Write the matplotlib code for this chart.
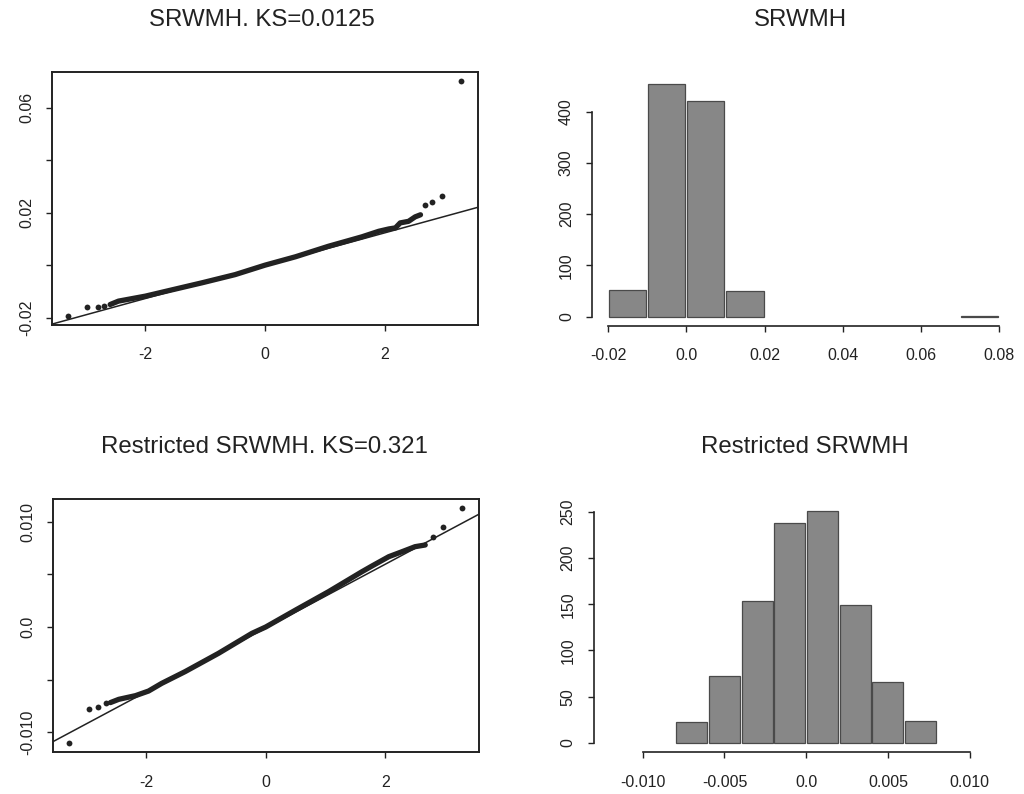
import matplotlib
matplotlib.use("Agg")
import matplotlib.pyplot as plt

plt.rcParams['font.family'] = ['Liberation Sans', 'DejaVu Sans']

# ---------------- data ----------------
titles = ["SRWMH. KS=0.0125", "SRWMH", "Restricted SRWMH. KS=0.321", "Restricted SRWMH"]

# QQ plot 1 (SRWMH): dense body of the sample quantiles
qq1_theo = [-2.59, -2.45, -2.00, -1.61, -1.05, -0.50, 0.00, 0.51, 1.06, 1.62,
            1.90, 2.07, 2.18, 2.26, 2.40, 2.51, 2.60]
qq1_samp = [-0.0150, -0.0137, -0.0118, -0.0097, -0.0067, -0.0036, 0.0000, 0.0032,
            0.0072, 0.0108, 0.0129, 0.0138, 0.0142, 0.0161, 0.0167, 0.0184, 0.0192]
# isolated tail points
qq1_tail_theo = [-3.29, -2.97, -2.80, -2.69, 2.68, 2.80, 2.96, 3.28]
qq1_tail_samp = [-0.0192, -0.0159, -0.0158, -0.0154, 0.0228, 0.0239, 0.0265, 0.0702]
qq1_line = (-0.0002, 0.00625)   # intercept, slope of reference line

# QQ plot 2 (Restricted SRWMH)
qq2_theo = [-2.60, -2.46, -2.18, -1.96, -1.74, -1.35, -0.79, -0.23, 0.00, 0.50,
            1.05, 1.61, 1.78, 2.06, 2.28, 2.50, 2.67]
qq2_samp = [-0.00718, -0.00687, -0.00652, -0.00608, -0.00535, -0.00424, -0.00250,
            -0.00060, 0.00000, 0.00161, 0.00335, 0.00525, 0.00580, 0.00668,
            0.00715, 0.00763, 0.00779]
qq2_tail_theo = [-3.29, -2.96, -2.80, -2.68, 2.80, 2.96, 3.29]
qq2_tail_samp = [-0.01099, -0.00779, -0.00757, -0.00725, 0.00858, 0.00947, 0.01127]
qq2_line = (-0.0001, 0.00303)

# Histogram 1 (SRWMH)
hist1_edges = [-0.02, -0.01, 0.00, 0.01, 0.02, 0.03, 0.04, 0.05, 0.06, 0.07, 0.08]
hist1_counts = [52, 455, 420, 51, 0, 0, 0, 0, 0, 1]

# Histogram 2 (Restricted SRWMH)
hist2_edges = [-0.008, -0.006, -0.004, -0.002, 0.000, 0.002, 0.004, 0.006, 0.008]
hist2_counts = [23, 72, 154, 238, 251, 149, 66, 24]

# tick labels
qq_xticks = [-2, 0, 2]
qq1_yticks = [-0.02, 0.0, 0.02, 0.04, 0.06]
qq1_ylabels = ["-0.02", "", "0.02", "", "0.06"]
qq2_yticks = [-0.010, -0.005, 0.0, 0.005, 0.010]
qq2_ylabels = ["-0.010", "", "0.0", "", "0.010"]
h1_xticks = [-0.02, 0.0, 0.02, 0.04, 0.06, 0.08]
h1_xlabels = ["-0.02", "0.0", "0.02", "0.04", "0.06", "0.08"]
h1_yticks = [0, 100, 200, 300, 400]
h2_xticks = [-0.010, -0.005, 0.0, 0.005, 0.010]
h2_xlabels = ["-0.010", "-0.005", "0.0", "0.005", "0.010"]
h2_yticks = [0, 50, 100, 150, 200, 250]

# ---------------- drawing ----------------
W, H = 1024, 794
fig = plt.figure(figsize=(W / 100, H / 100), dpi=100)
INK = "#222222"


def axes_px(left, top, right, bottom):
    return fig.add_axes([left / W, 1 - bottom / H, (right - left) / W, (bottom - top) / H])


def style_ticks(ax):
    ax.tick_params(axis='both', direction='out', length=4, width=1.0, color=INK,
                   labelsize=11.5, labelcolor=INK)
    ax.tick_params(axis='x', pad=12)
    ax.tick_params(axis='y', pad=9)
    for lab in ax.get_yticklabels():
        lab.set_rotation(90)
        lab.set_va('center')
        lab.set_ha('right')


def qq_panel(ax, theo, samp, ttheo, tsamp, line, xlim, ylim, yticks, ylabels):
    ax.set_xlim(*xlim)
    ax.set_ylim(*ylim)
    ax.plot(theo, samp, color=INK, lw=3.8, solid_capstyle='round',
            solid_joinstyle='round', zorder=3)
    ax.plot(ttheo, tsamp, 'o', color=INK, ms=4.2, mec='none', zorder=3)
    ax.axline((0, line[0]), slope=line[1], color=INK, lw=1.1, zorder=2)
    ax.set_xticks(qq_xticks)
    ax.set_xticklabels([str(t) for t in qq_xticks])
    ax.set_yticks(yticks)
    ax.set_yticklabels(ylabels)
    for s in ax.spines.values():
        s.set_linewidth(1.4)
        s.set_color(INK)
    style_ticks(ax)


def hist_panel(ax, edges, counts, xlim, ylim, xticks, xlabels, yticks):
    widths = [edges[i + 1] - edges[i] for i in range(len(counts))]
    centers = [(edges[i] + edges[i + 1]) / 2 for i in range(len(counts))]
    edgecols = ['#4a4a4a' if c > 0 else 'none' for c in counts]
    ax.bar(centers, counts, width=[w * 0.95 for w in widths], align='center',
           color='#878787', edgecolor=edgecols, linewidth=0.9, zorder=3)
    ax.set_xlim(*xlim)
    ax.set_ylim(*ylim)
    ax.set_xticks(xticks)
    ax.set_xticklabels(xlabels)
    ax.set_yticks(yticks)
    ax.set_yticklabels([str(t) for t in yticks])
    for side in ('top', 'right'):
        ax.spines[side].set_visible(False)
    ax.spines['left'].set_bounds(yticks[0], yticks[-1])
    ax.spines['bottom'].set_bounds(xticks[0], xticks[-1])
    for side in ('left', 'bottom'):
        ax.spines[side].set_linewidth(1.2)
        ax.spines[side].set_color(INK)
    style_ticks(ax)


ax1 = axes_px(52, 72, 477.5, 325)
qq_panel(ax1, qq1_theo, qq1_samp, qq1_tail_theo, qq1_tail_samp, qq1_line,
         (-3.562, 3.553), (-0.0228, 0.0736), qq1_yticks, qq1_ylabels)

ax2 = axes_px(592, 74, 1015, 326)
hist_panel(ax2, hist1_edges, hist1_counts, (-0.0241, 0.084), (-18.1, 473.6),
           h1_xticks, h1_xlabels, h1_yticks)

ax3 = axes_px(53.3, 499.3, 479, 752.3)
qq_panel(ax3, qq2_theo, qq2_samp, qq2_tail_theo, qq2_tail_samp, qq2_line,
         (-3.555, 3.570), (-0.0119, 0.01213), qq2_yticks, qq2_ylabels)

ax4 = axes_px(593.7, 501.5, 1017, 752.3)
hist_panel(ax4, hist2_edges, hist2_counts, (-0.0130, 0.0129), (-10.0, 261.0),
           h2_xticks, h2_xlabels, h2_yticks)

title_pos = [(262, 20), (800, 20), (264, 447), (805, 447)]
for t, (x, y) in zip(titles, title_pos):
    fig.text(x / W, 1 - y / H, t, ha='center', va='center', fontsize=17.3, color=INK)

fig.savefig("out.png", dpi=100, facecolor='white')
